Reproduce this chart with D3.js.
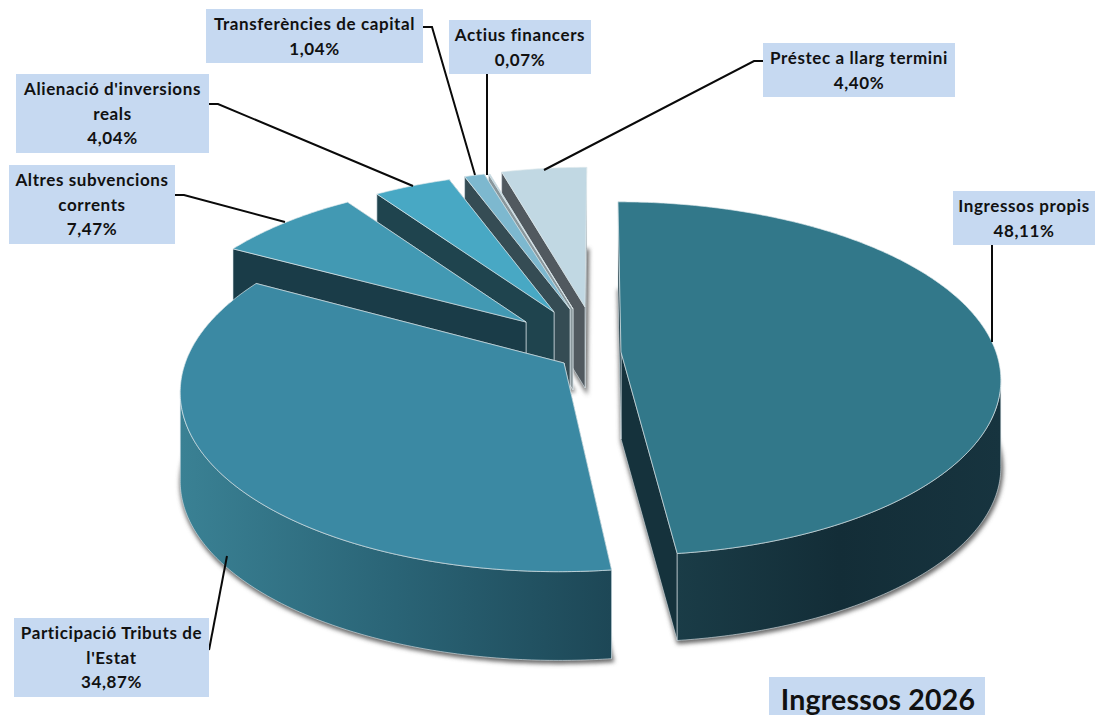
<!DOCTYPE html>
<html><head><meta charset="utf-8">
<script src="https://cdn.jsdelivr.net/npm/d3@7"></script>
<style>html,body{margin:0;padding:0;background:#fff}svg{display:block}</style>
</head><body><div id="c"></div>
<script>
// Data
const categories = ["Ingressos propis","Participació Tributs de l'Estat","Altres subvencions corrents","Alienació d'inversions reals","Transferències de capital","Actius financers","Préstec a llarg termini"];
const shares = [48.11,34.87,7.47,4.04,1.04,0.07,4.40];
const shareLabels = ["48,11%","34,87%","7,47%","4,04%","1,04%","0,07%","4,40%"];
const title = "Ingressos 2026";

// Layout and styles
const labelLines = [["Ingressos propis"],["Participació Tributs de","l'Estat"],["Altres subvencions","corrents"],["Alienació d'inversions","reals"],["Transferències de capital"],["Actius financers"],["Préstec a llarg termini"]];
const apexes = [[621,352],[564,363],[526,322],[554,312],[570,309],[573,309],[585,307]];
const scalesX = [1,1.01,0.96,0.94,0.945,0.93,0.95];
const scalesY = [1,1.027,0.945,0.93,0.93,0.93,0.93];
const shears = [0.02,-0.025,-0.02,0,0,0,-0.012];
const topColors = ["#32788a","#3b89a3","#4299b3","#48a8c4","#7db8cf","#b4d0dc","#c1d8e3"];
const wallColors = ["#15323c","#1d4654","#1a3c48","#1f444e","#354c54","#8a979c","#51595f"];
const outerStops = [["#1a3c47","#132d37","#17343f"],["#3a8194","#2a6476","#1d4756"],["#1a3c48","#1a3c48","#1a3c48"],["#1f444e","#1f444e","#1f444e"],["#354c54","#354c54","#354c54"],["#8a979c","#8a979c","#8a979c"],["#51595f","#51595f","#51595f"]];
const boxes = [[953,191,142,54],[14,618,195,79],[9,165,166,79],[16,74,193,79],[206,9,217,54],[449,20,142,54],[763,43,192,54]];
const leaders = [[[992,245],[992,342]],[[209,650],[227,556]],[[175,195],[184,195],[285,222]],[[209,104],[218,104],[413,186]],[[423,27],[432,27],[475,175]],[[487,74],[487,175]],[[763,61],[754,61],[544,170]]];
const R = 375, K = 172.7, P = 0.15, DEPTH = 87;

const svg = d3.select("#c").append("svg").attr("width",1095).attr("height",715);
const defs = svg.append("defs");
const blur = defs.append("filter").attr("id","sh").attr("x","-10%").attr("y","-10%").attr("width","120%").attr("height","120%");
blur.append("feGaussianBlur").attr("stdDeviation",2.2);

const arcs = d3.pie().sort(null).startAngle(0).endAngle(2*Math.PI).value(d=>d)(shares);
const sx = d3.scaleLinear().domain([-1,1]).range([-R,R]);
const sy = d3.scaleLinear().domain([-1,1]).range([-K,K]);
const line = d3.line();
function pt(i,a,dz=0){
  const x=Math.sin(a), y=-Math.cos(a), s=1/(1-P*y);
  const dy=sy(y)*s*scalesY[i];
  return [apexes[i][0]+sx(x)*s*scalesX[i]+shears[i]*dy, apexes[i][1]+dy+dz];
}
function arcPts(i,a0,a1,dz=0){
  const n=Math.max(2,Math.ceil((a1-a0)/0.01));
  return d3.range(n+1).map(j=>pt(i,a0+(a1-a0)*j/n,dz));
}
const depth = i=>i===1?DEPTH*1.02:DEPTH*scalesY[i];

const shadowLayer = svg.append("g");
arcs.forEach((d,i)=>{
  const dz=depth(i);
  shadowLayer.append("path")
    .attr("d",line([[apexes[i][0],apexes[i][1]+dz],...arcPts(i,d.startAngle,d.endAngle,dz)])+"Z")
    .attr("fill","#6a6a6a").attr("stroke","#6a6a6a").attr("stroke-width",3)
    .attr("transform","translate(1,2)").attr("filter","url(#sh)");
});

const edge = "rgba(222,232,236,0.75)";
const frontA0 = Math.acos(-P), frontA1 = 2*Math.PI-frontA0;
[6,5,4,3,2,1,0].forEach(i=>{
  const d=arcs[i], dz=depth(i), g=svg.append("g");
  const ap=apexes[i], apB=[ap[0],ap[1]+dz];
  const pS=pt(i,d.startAngle), pE=pt(i,d.endAngle);
  // radial walls
  [pE,pS].forEach(p=>{
    g.append("path").attr("d",line([ap,p,[p[0],p[1]+dz],apB])+"Z")
      .attr("fill",wallColors[i]).attr("stroke",edge).attr("stroke-width",0.8);
  });
  // outer wall: only the part of the rim that faces the viewer
  const f0=Math.max(d.startAngle,frontA0), f1=Math.min(d.endAngle,frontA1);
  if(f1>f0){
    const xs=arcPts(i,f0,f1).map(p=>p[0]);
    const grad=defs.append("linearGradient").attr("id","w"+i).attr("gradientUnits","userSpaceOnUse")
      .attr("x1",d3.min(xs)).attr("x2",d3.max(xs)).attr("y1",0).attr("y2",0);
    outerStops[i].forEach((c,j)=>grad.append("stop").attr("offset",j/2).attr("stop-color",c));
    g.append("path").attr("d",line(arcPts(i,f0,f1).concat(arcPts(i,f0,f1,dz).reverse()))+"Z")
      .attr("fill",`url(#w${i})`).attr("stroke",edge).attr("stroke-width",0.8);
  }
  // top face
  g.append("path").attr("d",line([ap,...arcPts(i,d.startAngle,d.endAngle)])+"Z").attr("fill",topColors[i])
    .attr("stroke",edge).attr("stroke-width",0.9);
});

// leaders
leaders.forEach(l=>svg.append("path").attr("d",line(l)).attr("fill","none").attr("stroke","#0a0a0a").attr("stroke-width",2));

// labels
const FONT="Lato, 'Open Sans', sans-serif";
categories.forEach((c,i)=>{
  const b=boxes[i], g=svg.append("g");
  g.append("rect").attr("x",b[0]).attr("y",b[1]).attr("width",b[2]).attr("height",b[3]).attr("fill","#c6d9f1");
  const lines=labelLines[i].concat([shareLabels[i]]);
  const lh=24.5, y0=b[1]+b[3]/2-(lines.length-1)*lh/2+0.5;
  lines.forEach((t,j)=>g.append("text").attr("x",b[0]+b[2]/2).attr("y",y0+j*lh).attr("dy","0.35em")
    .attr("text-anchor","middle").attr("font-family",FONT).attr("font-weight",700).attr("font-size",17).attr("letter-spacing",0.6).attr("fill","#111").text(t));
});
svg.append("rect").attr("x",769).attr("y",677).attr("width",216).attr("height",38).attr("fill","#c6d9f1");
svg.append("text").attr("x",878).attr("y",700).attr("dy","0.35em").attr("text-anchor","middle")
  .attr("font-family",FONT).attr("font-weight",700).attr("font-size",28.5).attr("letter-spacing",0.2).attr("fill","#111").text(title);
</script></body></html>
